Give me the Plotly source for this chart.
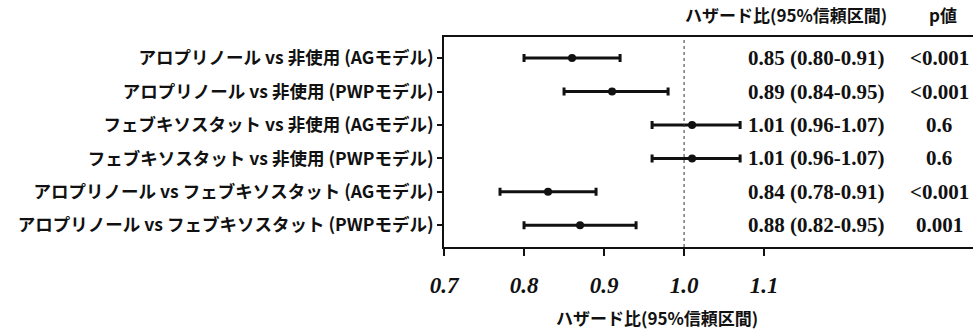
import plotly.graph_objects as go

# ---- data ----
labels = [
    "アロプリノール vs 非使用 (AGモデル)",
    "アロプリノール vs 非使用 (PWPモデル)",
    "フェブキソスタット vs 非使用 (AGモデル)",
    "フェブキソスタット vs 非使用 (PWPモデル)",
    "アロプリノール vs フェブキソスタット (AGモデル)",
    "アロプリノール vs フェブキソスタット (PWPモデル)",
]
hr_est = [0.86, 0.91, 1.01, 1.01, 0.83, 0.87]
ci_low = [0.80, 0.85, 0.96, 0.96, 0.77, 0.80]
ci_high = [0.92, 0.98, 1.07, 1.07, 0.89, 0.94]
hr_text = [
    "0.85 (0.80-0.91)",
    "0.89 (0.84-0.95)",
    "1.01 (0.96-1.07)",
    "1.01 (0.96-1.07)",
    "0.84 (0.78-0.91)",
    "0.88 (0.82-0.95)",
]
p_text = ["<0.001", "<0.001", "0.6", "0.6", "<0.001", "0.001"]
x_ticks = [0.7, 0.8, 0.9, 1.0, 1.1]
x_ticktext = ["0.7", "0.8", "0.9", "1.0", "1.1"]
axis_title = "ハザード比(95%信頼区間)"
header_hr = "ハザード比(95%信頼区間)"
header_p = "p値"
ref_value = 1.0

rows = list(range(1, len(labels) + 1))
err_plus = [h - e for h, e in zip(ci_high, hr_est)]
err_minus = [e - l for e, l in zip(hr_est, ci_low)]

JP = "Noto Sans CJK JP"
SERIF = "Liberation Serif"
INK = "#111111"

fig = go.Figure()
fig.add_trace(go.Scatter(
    x=hr_est, y=rows, mode="markers",
    marker=dict(color=INK, size=8, symbol="circle"),
    error_x=dict(type="data", symmetric=False, array=err_plus, arrayminus=err_minus,
                 color=INK, thickness=3, width=4),
    showlegend=False, hoverinfo="skip",
))

fig.add_shape(type="line", x0=ref_value, x1=ref_value, y0=0, y1=1,
              xref="x", yref="paper", line=dict(color="#333333", width=1, dash="dot"))

for r, ht, pt in zip(rows, hr_text, p_text):
    fig.add_annotation(x=0.570, y=r, xref="paper", yref="y", text=ht, showarrow=False,
                       xanchor="left", yanchor="middle",
                       font=dict(family=SERIF, size=21, color=INK, weight="bold"))
    fig.add_annotation(x=0.936, y=r, xref="paper", yref="y", text=pt, showarrow=False,
                       xanchor="center", yanchor="middle",
                       font=dict(family=SERIF, size=21, color=INK, weight="bold"))

fig.add_annotation(x=0.647, y=1.105, xref="paper", yref="paper", text=header_hr,
                   showarrow=False, xanchor="center", yanchor="middle",
                   font=dict(family=JP, size=17, color=INK, weight="bold"))
fig.add_annotation(x=0.943, y=1.105, xref="paper", yref="paper", text=header_p,
                   showarrow=False, xanchor="center", yanchor="middle",
                   font=dict(family=JP, size=17, color=INK, weight="bold"))
# x-axis title
fig.add_annotation(x=0.402, y=-0.338, xref="paper", yref="paper", text=axis_title,
                   showarrow=False, xanchor="center", yanchor="middle",
                   font=dict(family=JP, size=17, color=INK, weight="bold"))

fig.update_xaxes(
    range=[0.7, 1.361], tickvals=x_ticks, ticktext=x_ticktext,
    showline=True, linecolor=INK, linewidth=2, mirror=True,
    ticks="outside", ticklen=7, tickwidth=2, tickcolor=INK,
    ticklabelstandoff=9,
    tickfont=dict(family=SERIF, size=23, color=INK, weight="bold", style="italic"),
    showgrid=False, zeroline=False,
)
fig.update_yaxes(
    range=[6.65, 0.37], tickvals=rows, ticktext=labels,
    showline=True, linecolor=INK, linewidth=2, mirror=False,
    ticks="outside", ticklen=5, tickwidth=2, tickcolor=INK,
    tickfont=dict(family=JP, size=17.5, color=INK, weight="bold"),
    showgrid=False, zeroline=False,
)
fig.update_layout(
    width=973, height=329,
    margin=dict(l=444, r=0, t=37, b=82),
    paper_bgcolor="white", plot_bgcolor="white",
)
fig.write_html("out.html")
